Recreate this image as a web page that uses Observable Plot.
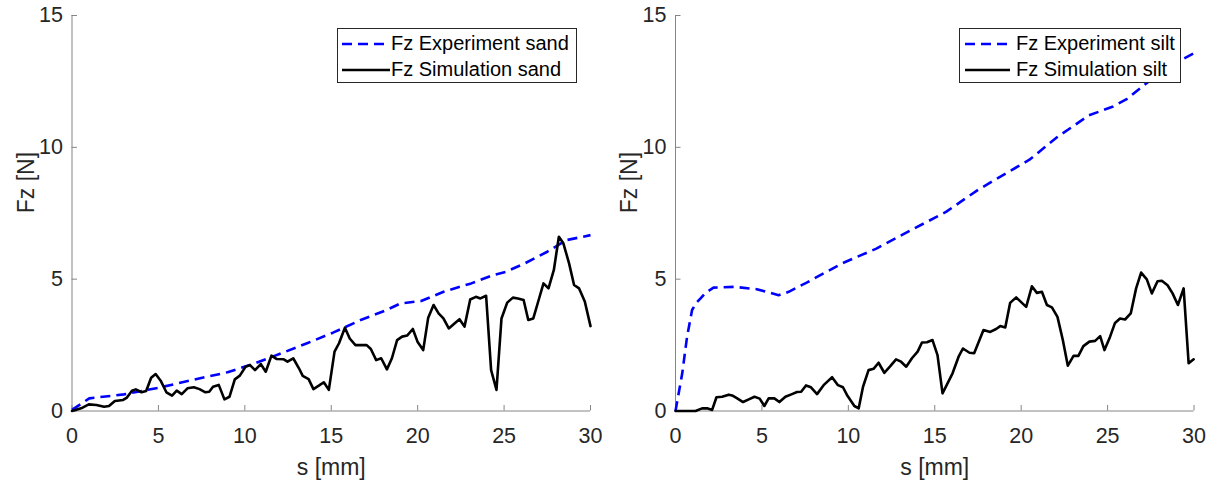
<!DOCTYPE html>
<html><head><meta charset="utf-8">
<script src="https://cdn.jsdelivr.net/npm/d3@7"></script>
<script src="https://cdn.jsdelivr.net/npm/@observablehq/plot@0.6"></script>
<style>
html,body{margin:0;padding:0;background:#fff;}
#wrap{position:relative;width:1215px;height:483px;overflow:hidden;font-family:"Liberation Sans",Arial,sans-serif;}
.panel{position:absolute;top:0;}
.legend{position:absolute;top:28px;height:55px;box-sizing:border-box;border:1px solid #262626;background:#fff;font-size:20px;color:#000;}
.legend .row{position:absolute;height:26px;display:flex;align-items:center;white-space:nowrap;}
.legend svg{display:block;}
</style></head>
<body>
<div id="wrap"></div>
<script>
// ---- data ----
const xTicks = [0, 5, 10, 15, 20, 25, 30];
const yTicks = [0, 5, 10, 15];
const xDomain = [0, 30];
const yDomain = [0, 15];
const xLabel = "s [mm]";
const yLabel = "Fz [N]";

const seriesNamesSand = ["Fz Experiment sand", "Fz Simulation sand"];
const seriesNamesSilt = ["Fz Experiment silt", "Fz Simulation silt"];

const expSandS = [0, 1, 3, 5, 7, 9, 10.6, 12, 13.6, 15.1, 16.7, 18.2, 19, 20.2, 21.5, 23.1, 24.4, 25.1, 26.2, 27.5, 28.6, 30];
const expSandF = [0.04, 0.48, 0.63, 0.88, 1.18, 1.47, 1.81, 2.16, 2.57, 2.97, 3.45, 3.83, 4.08, 4.17, 4.52, 4.84, 5.16, 5.28, 5.60, 6.04, 6.48, 6.67];

const simSandS = [0,0.53,0.97,1.41,1.86,2.14,2.48,2.96,3.18,3.47,3.69,4.02,4.29,4.58,4.84,5.13,5.46,5.79,6.06,6.35,6.68,7.05,7.38,7.72,7.94,8.16,8.49,8.82,9.11,9.42,9.71,10.04,10.30,10.59,10.92,11.21,11.54,11.85,12.25,12.47,12.80,13.13,13.35,13.69,13.97,14.28,14.57,14.86,15.19,15.45,15.79,16.07,16.40,16.78,17.05,17.29,17.60,17.89,18.22,18.51,18.81,19.10,19.39,19.72,19.99,20.32,20.61,20.92,21.21,21.49,21.80,22.13,22.42,22.71,23.04,23.37,23.63,23.96,24.25,24.56,24.85,25.18,25.51,25.80,26.13,26.40,26.69,27.00,27.28,27.57,27.88,28.17,28.43,28.76,29.05,29.34,29.67,30.0];
const simSandF = [0,0.1,0.25,0.23,0.16,0.19,0.38,0.42,0.51,0.77,0.82,0.71,0.76,1.26,1.40,1.15,0.71,0.58,0.77,0.64,0.86,0.90,0.83,0.71,0.73,0.92,0.99,0.44,0.54,1.20,1.34,1.68,1.74,1.55,1.78,1.49,2.10,1.97,1.96,1.87,2.00,1.62,1.33,1.21,0.83,0.96,1.09,0.80,2.25,2.57,3.16,2.75,2.50,2.50,2.50,2.35,1.93,2.00,1.58,2.00,2.69,2.82,2.86,3.11,2.63,2.31,3.54,4.02,3.70,3.51,3.13,3.32,3.48,3.20,4.23,4.33,4.27,4.37,1.55,0.80,3.51,4.11,4.30,4.27,4.21,3.45,3.51,4.21,4.84,4.65,5.35,6.61,6.36,5.60,4.78,4.65,4.15,3.22];

const expSiltS = [0, 0.39, 0.67, 0.96, 1.2, 1.45, 1.73, 2.2, 3.4, 4.7, 5.97, 6.55, 7.59, 9.61, 11.62, 13.63, 15.65, 17.46, 19.27, 20.48, 22.09, 23.91, 25.32, 26.13, 27.33, 28.13, 30];
const expSiltF = [0, 1.43, 2.82, 3.83, 4.1, 4.27, 4.48, 4.68, 4.71, 4.62, 4.39, 4.52, 4.87, 5.59, 6.16, 6.86, 7.55, 8.37, 9.07, 9.53, 10.39, 11.21, 11.55, 11.84, 12.47, 12.92, 13.57];

const simSiltS = [0,1.16,1.54,1.83,2.12,2.37,2.70,3.08,3.28,3.57,3.91,4.24,4.57,4.87,5.14,5.39,5.72,6.01,6.36,6.74,7.03,7.27,7.55,7.84,8.19,8.57,9.06,9.40,9.69,9.92,10.35,10.60,10.85,11.17,11.46,11.75,12.08,12.43,12.76,13.05,13.35,13.68,14.01,14.26,14.55,14.87,15.16,15.45,16.03,16.38,16.63,17.01,17.28,17.82,18.21,18.55,18.79,19.08,19.36,19.71,20.29,20.62,20.91,21.20,21.49,21.78,22.10,22.41,22.70,23.03,23.31,23.60,23.95,24.28,24.57,24.82,25.14,25.43,25.72,26.01,26.34,26.65,26.94,27.27,27.56,27.89,28.14,28.47,28.76,29.07,29.40,29.69,29.98];
const simSiltF = [0,0,0.1,0.1,0.04,0.52,0.54,0.62,0.59,0.48,0.34,0.44,0.54,0.47,0.19,0.48,0.48,0.34,0.54,0.64,0.72,0.73,0.97,0.90,0.64,0.98,1.28,0.98,0.90,0.61,0.19,0.10,0.92,1.55,1.60,1.83,1.45,1.70,1.96,1.87,1.68,2.0,2.25,2.60,2.61,2.69,2.12,0.67,1.43,2.06,2.37,2.21,2.19,3.07,3.00,3.11,3.22,3.17,4.10,4.31,3.95,4.73,4.48,4.52,4.02,3.93,3.57,2.69,1.72,2.09,2.09,2.46,2.63,2.66,2.84,2.31,2.81,3.34,3.51,3.47,3.70,4.65,5.25,4.99,4.46,4.92,4.94,4.77,4.46,4.02,4.65,1.81,1.96];

// ---- styling ----
const axisColor = "#858585";
const textColor = "#262626";
const expColor = "#0000ff";
const simColor = "#000000";
const lineW = 2.6;
const dash = "10,6";
const H = 483, MT = 15, MB = 72.5;

function pts(xs, ys) { return xs.map((x, i) => ({x, y: ys[i]})); }

function panel({expS, expF, simS, simF, width, marginLeft, marginRight}) {
  const frameW = width - marginLeft - marginRight;
  const frameH = H - MT - MB;
  return Plot.plot({
    width, height: H, marginLeft, marginRight, marginTop: MT, marginBottom: MB,
    style: {fontFamily: "'Liberation Sans', Arial, sans-serif", fontSize: "21px", color: textColor, background: "transparent", overflow: "visible"},
    x: {domain: xDomain},
    y: {domain: yDomain},
    marks: [
      Plot.axisX(xTicks, {tickSize: 0, tickPadding: 16.5, fontSize: 21.5, label: null, fill: textColor}),
      Plot.axisY(yTicks, {tickSize: 0, tickPadding: 9, fontSize: 21.5, label: null, fill: textColor}),
      Plot.tickX(xTicks, {x: d => d, stroke: axisColor, insetTop: frameH - 5.5}),
      Plot.tickY(yTicks, {y: d => d, stroke: axisColor, insetRight: frameW - 5.5}),
      Plot.ruleX([xDomain[0]], {stroke: axisColor}),
      Plot.ruleY([yDomain[0]], {stroke: axisColor}),
      Plot.text([xLabel], {frameAnchor: "bottom", dy: 64, lineAnchor: "bottom", fontSize: 23, fill: textColor}),
      Plot.text([yLabel], {frameAnchor: "left", dx: -45.5, rotate: -90, fontSize: 23, fill: textColor}),
      Plot.line(pts(expS, expF), {x: "x", y: "y", stroke: expColor, strokeWidth: lineW, strokeDasharray: dash, strokeLinecap: "butt", strokeLinejoin: "round"}),
      Plot.line(pts(simS, simF), {x: "x", y: "y", stroke: simColor, strokeWidth: lineW, strokeLinejoin: "round"})
    ]
  });
}

function legend(names, box, lineX0, lineX1, textX) {
  const div = document.createElement("div");
  div.className = "legend";
  div.style.left = box.left + "px";
  div.style.width = box.width + "px";
  const styles = [{stroke: expColor, dash: dash}, {stroke: simColor, dash: null}];
  names.forEach((name, i) => {
    const row = document.createElement("div");
    row.className = "row";
    row.style.top = (i === 0 ? 1.5 : 27.5) + "px";
    row.style.left = "0px";
    const svgNS = "http://www.w3.org/2000/svg";
    const svg = document.createElementNS(svgNS, "svg");
    svg.setAttribute("width", textX);
    svg.setAttribute("height", 26);
    const ln = document.createElementNS(svgNS, "line");
    ln.setAttribute("x1", lineX0); ln.setAttribute("x2", lineX1);
    ln.setAttribute("y1", 13); ln.setAttribute("y2", 13);
    ln.setAttribute("stroke", styles[i].stroke);
    ln.setAttribute("stroke-width", lineW);
    if (styles[i].dash) ln.setAttribute("stroke-dasharray", styles[i].dash);
    svg.appendChild(ln);
    row.appendChild(svg);
    const span = document.createElement("span");
    span.textContent = name;
    row.appendChild(span);
    div.appendChild(row);
  });
  return div;
}

const wrap = document.getElementById("wrap");
const left = panel({expS: expSandS, expF: expSandF, simS: simSandS, simF: simSandF, width: 607, marginLeft: 71.5, marginRight: 17});
left.classList.add("panel"); left.style.left = "0px";
const right = panel({expS: expSiltS, expF: expSiltF, simS: simSiltS, simF: simSiltF, width: 608, marginLeft: 68, marginRight: 21.5});
right.classList.add("panel"); right.style.left = "607px";
wrap.appendChild(left);
wrap.appendChild(right);
wrap.appendChild(legend(seriesNamesSand, {left: 337, width: 240}, 4, 52, 53));
wrap.appendChild(legend(seriesNamesSilt, {left: 959, width: 222}, 5, 50, 56));
</script>
</body></html>
